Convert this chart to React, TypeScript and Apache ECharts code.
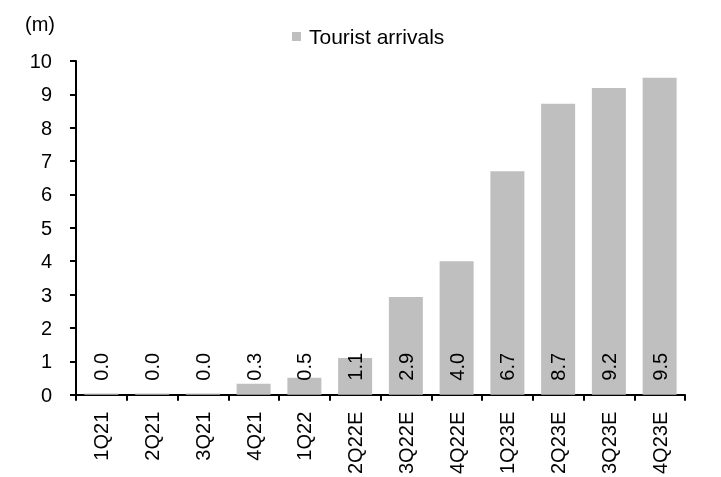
import React, { useEffect, useRef } from "react";
import * as echarts from "echarts";

const categories = ["1Q21", "2Q21", "3Q21", "4Q21", "1Q22", "2Q22E", "3Q22E", "4Q22E", "1Q23E", "2Q23E", "3Q23E", "4Q23E"];
const touristArrivals = [0.04, 0.04, 0.04, 0.33, 0.51, 1.1, 2.93, 4.0, 6.7, 8.72, 9.19, 9.5];
const seriesName = "Tourist arrivals";
const unitLabel = "(m)";

const FONT = "'Liberation Sans', Arial, sans-serif";
const FS = 20;

export default function App() {
  const ref = useRef<HTMLDivElement>(null);
  useEffect(() => {
    if (!ref.current) return;
    const chart = echarts.init(ref.current, undefined, { renderer: "svg" });
    chart.setOption({
      animation: false,
      textStyle: { fontFamily: FONT, color: "#000" },
      graphic: [
        {
          type: "text",
          left: 25,
          top: 14,
          style: { text: unitLabel, font: `${FS}px ${FONT}`, fill: "#000" },
        },
      ],
      legend: {
        data: [seriesName],
        left: 287,
        top: 21,
        icon: "rect",
        itemWidth: 9,
        itemHeight: 9,
        itemGap: 8,
        textStyle: { fontFamily: FONT, fontSize: 21, color: "#000", padding: [0, 0, 0, 3] },
      },
      grid: { left: 76, right: 36, top: 61, bottom: 78, containLabel: false },
      xAxis: {
        type: "category",
        data: categories,
        boundaryGap: true,
        axisLine: { lineStyle: { color: "#000", width: 2 } },
        axisTick: { show: true, alignWithLabel: false, length: 6, lineStyle: { color: "#000", width: 2 } },
        axisLabel: { rotate: 90, margin: 17, fontFamily: FONT, fontSize: FS, color: "#000", interval: 0 },
      },
      yAxis: {
        type: "value",
        min: 0,
        max: 10,
        interval: 1,
        splitLine: { show: false },
        axisLine: { show: true, lineStyle: { color: "#000", width: 2 } },
        axisTick: { show: true, inside: false, length: 6, lineStyle: { color: "#000", width: 2 } },
        axisLabel: { margin: 24, fontFamily: FONT, fontSize: FS, color: "#000" },
      },
      series: [
        {
          name: seriesName,
          type: "bar",
          data: touristArrivals,
          barCategoryGap: "33%",
          itemStyle: { color: "#BFBFBF" },
          label: {
            show: true,
            position: "insideBottom",
            rotate: 90,
            align: "left",
            verticalAlign: "middle",
            distance: 14,
            fontFamily: FONT,
            fontSize: FS,
            color: "#000",
            formatter: (p: any) => Number(p.value).toFixed(1),
          },
        },
      ],
    });
    return () => chart.dispose();
  }, []);
  return <div ref={ref} style={{ position: "fixed", left: 0, top: 0, width: 721, height: 477 }} />;
}
